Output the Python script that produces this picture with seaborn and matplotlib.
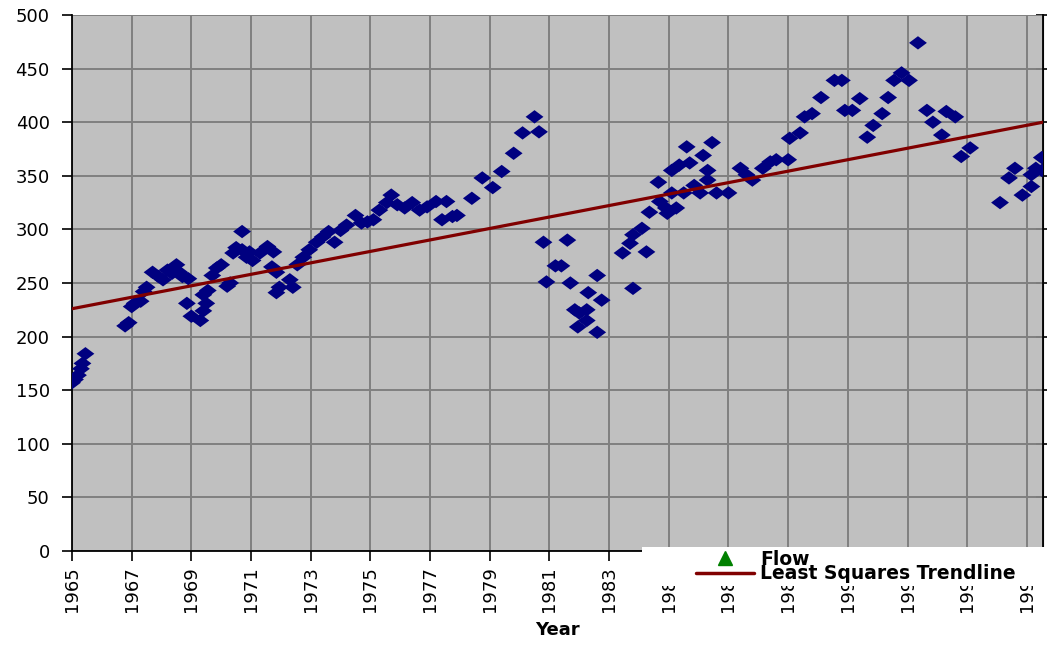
import pandas as pd
import matplotlib
matplotlib.use('Agg')
import matplotlib.pyplot as plt
from matplotlib.lines import Line2D
from matplotlib.patches import Rectangle
import seaborn as sns

# flow readings (year, value)
years = [1965.00, 1965.10, 1965.20, 1965.30, 1965.35, 1965.45,
         1966.78, 1966.90, 1967.00, 1967.10, 1967.30, 1967.40, 1967.50,
         1967.70, 1967.90, 1968.05, 1968.20, 1968.35, 1968.50, 1968.60,
         1968.70, 1968.90, 1968.85, 1969.00, 1969.30, 1969.40, 1969.50,
         1969.40, 1969.55, 1969.70, 1969.85, 1970.00, 1970.20, 1970.30,
         1970.40, 1970.50, 1970.70, 1970.70, 1970.85, 1970.95, 1971.05,
         1971.30, 1971.55, 1971.75, 1971.70, 1971.85, 1971.95, 1971.85,
         1972.40, 1972.30, 1972.55, 1972.75, 1972.95, 1973.20, 1973.40,
         1973.60, 1973.80, 1974.00, 1974.20, 1974.50, 1974.70, 1974.90,
         1975.10, 1975.30, 1975.55, 1975.70, 1975.90, 1976.15, 1976.40,
         1976.65, 1976.90, 1977.20, 1977.40, 1977.55, 1977.75, 1977.90,
         1978.40, 1978.75, 1979.10, 1979.40, 1979.80, 1980.10, 1980.50,
         1980.65, 1980.80, 1980.90, 1981.20, 1981.40, 1981.60, 1981.70,
         1981.85, 1982.00, 1981.95, 1982.25, 1982.25, 1982.30, 1982.60,
         1982.60, 1982.75, 1983.45, 1983.70, 1983.80, 1983.80, 1984.10,
         1984.25, 1984.35, 1984.65, 1984.70, 1984.90, 1984.95, 1985.10,
         1985.25, 1985.10, 1985.35, 1985.70, 1985.60, 1985.50, 1985.85,
         1986.05, 1986.15, 1986.30, 1986.30, 1986.45, 1986.60, 1987.00,
         1987.40, 1987.60, 1987.80, 1988.15, 1988.40, 1988.60, 1989.00,
         1989.05, 1989.40, 1989.55, 1989.80, 1990.10, 1990.55, 1990.80,
         1990.90, 1991.15, 1991.40, 1991.65, 1991.85, 1992.15, 1992.35,
         1992.55, 1992.80, 1993.05, 1993.35, 1993.65, 1993.85, 1994.15,
         1994.30, 1994.60, 1994.80, 1995.10, 1996.10, 1996.40, 1996.60,
         1996.85, 1997.15, 1997.15, 1997.30, 1997.50, 1997.50]
flow = [157, 160, 164, 170, 175, 184,
        210, 213, 228, 231, 233, 242, 246,
        260, 256, 253, 262, 259, 267, 260,
        256, 254, 231, 219, 215, 224, 231,
        239, 243, 257, 264, 267, 247, 250,
        278, 283, 298, 281, 274, 279, 271,
        278, 284, 279, 265, 260, 246, 241,
        246, 253, 267, 274, 281, 288, 293,
        298, 288, 299, 304, 313, 306, 307,
        309, 318, 325, 332, 323, 320, 325,
        318, 321, 326, 309, 326, 312, 313,
        329, 348, 339, 354, 371, 390, 405,
        391, 288, 251, 266, 266, 290, 250,
        225, 222, 209, 215, 225, 241, 204,
        257, 234, 278, 287, 295, 245, 301,
        279, 316, 344, 326, 320, 315, 334,
        320, 355, 360, 362, 377, 334, 341,
        334, 369, 355, 346, 381, 334, 334,
        357, 351, 346, 357, 363, 365, 365,
        385, 390, 405, 408, 423, 439, 439,
        411, 411, 422, 386, 397, 408, 423,
        439, 446, 439, 474, 411, 400, 388,
        410, 405, 368, 376, 325, 348, 357,
        332, 340, 351, 357, 367, 355]

# trendline end points as drawn
trend_years = [1965.0, 1997.54]
trend_flow = [226, 400]

year_ticks = list(range(1965, 1998, 2))
flow_ticks = list(range(0, 501, 50))

df = pd.DataFrame({'Year': years, 'Flow': flow})

sns.set_style('ticks')
plt.rcParams['font.family'] = ['DejaVu Sans']
plt.rcParams['text.color'] = 'black'
plt.rcParams['axes.labelcolor'] = 'black'
plt.rcParams['xtick.color'] = 'black'
plt.rcParams['ytick.color'] = 'black'

f = plt.figure(figsize=(10.47, 6.45), dpi=100)
ax = f.add_axes([72/1047, 1-551/645, (1043-72)/1047, (551-15)/645])
ax.set_facecolor('#c0c0c0')
ax.set_axisbelow(True)
ax.grid(True, color='#808080', linewidth=1.4)

diamond = [(-1, 0), (0, 0.75), (1, 0), (0, -0.75)]
sns.scatterplot(data=df, x='Year', y='Flow', ax=ax, marker=diamond, s=165,
                color='#000080', edgecolor='none', linewidth=0, zorder=3)
sns.lineplot(x=trend_years, y=trend_flow, ax=ax, color='#800000',
             linewidth=2.3, zorder=4)

ax.set_xlim(1965, 1997.54)
ax.set_ylim(0, 500)
ax.set_xticks(year_ticks)
ax.set_xticklabels(year_ticks, rotation=90)
ax.set_yticks(flow_ticks)
ax.tick_params(axis='both', direction='out', length=7, width=1.2,
               color='black', labelcolor='black', labelsize=13)
ax.tick_params(axis='y', pad=9)
ax.tick_params(axis='x', pad=4)
ax.spines['top'].set_visible(False)
for s in ['left', 'bottom', 'right']:
    ax.spines[s].set_color('black')
    ax.spines[s].set_linewidth(1.3)

sec = ax.secondary_yaxis('right')
sec.set_yticks(flow_ticks)
sec.tick_params(direction='inout', length=10, width=1.2, labelright=False)

ax.set_ylabel('')
ax.set_xlabel('Year', fontweight='bold', fontsize=13, color='black')
ax.xaxis.set_label_coords(0.5, (551-621)/536)

# white legend box covering the lower right corner
f.add_artist(Rectangle((642/1047, 1-586/645), 1-642/1047, (586-547)/645,
                       transform=f.transFigure, facecolor='white',
                       edgecolor='none', zorder=4))

handles = [Line2D([], [], marker='^', color='#008000', linestyle='none',
                  markersize=10),
           Line2D([], [], color='#800000', linewidth=2.5)]
f.legend(handles, ['Flow', 'Least Squares Trendline'], loc='upper left',
         bbox_to_anchor=(696/1047, 1-550/645), frameon=False,
         prop={'weight': 'bold', 'size': 13.5}, handlelength=3.1,
         handletextpad=0.3, labelspacing=-0.25, borderpad=0,
         borderaxespad=0, labelcolor='black')

f.savefig('out.png', dpi=100)
